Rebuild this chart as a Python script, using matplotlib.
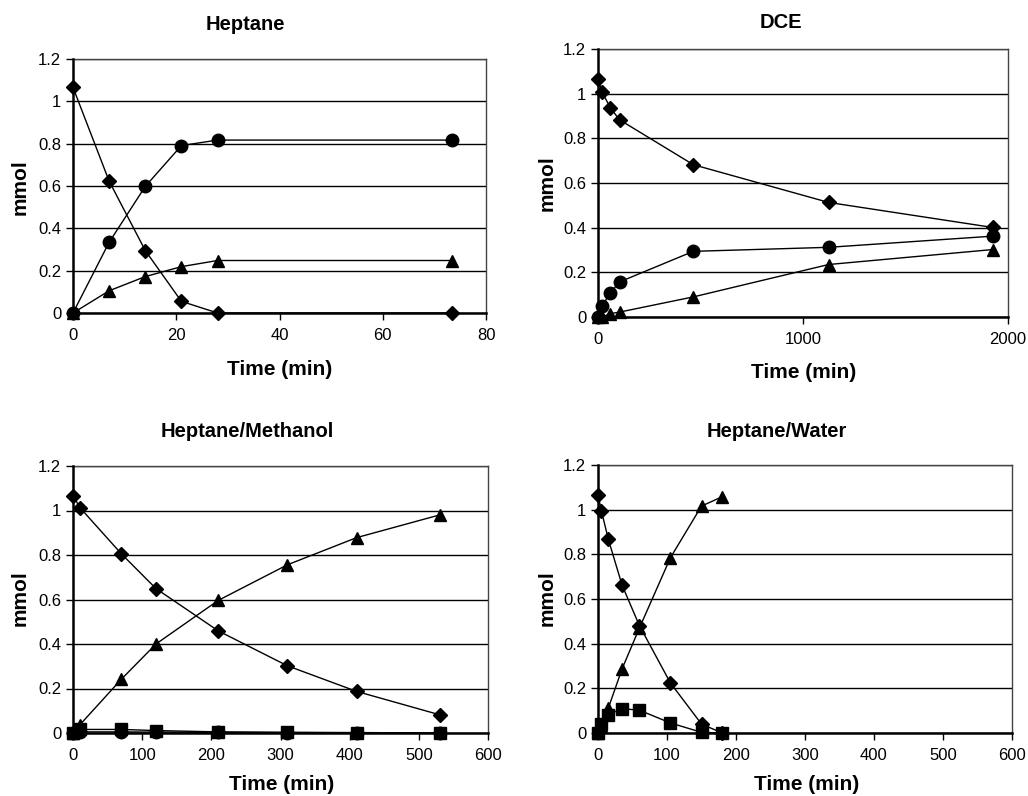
import numpy as np
import matplotlib.pyplot as plt
from matplotlib.ticker import FuncFormatter

plt.rcParams['font.family'] = ['Liberation Sans', 'DejaVu Sans']

# Heptane
hep_t = [0, 7, 14, 21, 28, 73.5]
hep_diamond = [1.066, 0.623, 0.295, 0.055, 0.0, 0.0]
hep_circle = [0.0, 0.334, 0.598, 0.791, 0.817, 0.817]
hep_triangle = [0.0, 0.105, 0.172, 0.219, 0.248, 0.248]

# DCE
dce_t = [0, 20, 60, 105, 465, 1125, 1925]
dce_diamond = [1.066, 1.007, 0.937, 0.883, 0.682, 0.513, 0.401]
dce_circle = [0.0, 0.048, 0.109, 0.157, 0.294, 0.312, 0.362]
dce_triangle = [0.0, 0.0, 0.015, 0.022, 0.09, 0.235, 0.302]

# Heptane/Methanol
met_t = [0, 10, 70, 120, 210, 310, 410, 530]
met_diamond = [1.067, 1.013, 0.805, 0.649, 0.459, 0.302, 0.187, 0.082]
met_triangle = [0.0, 0.037, 0.242, 0.40, 0.596, 0.756, 0.878, 0.98]
met_square = [0.0, 0.016, 0.016, 0.011, 0.005, 0.003, 0.002, 0.0]
met_circle = [0.0, 0.005, 0.005, 0.004, 0.003, 0.002, 0.001, 0.0]

# Heptane/Water
wat_t = [0, 5, 15, 35, 60, 105, 150, 180]
wat_diamond = [1.066, 0.994, 0.867, 0.661, 0.481, 0.224, 0.04, 0.0]
wat_triangle = [0.0, 0.03, 0.112, 0.288, 0.47, 0.785, 1.016, 1.058]
wat_square = [0.0, 0.04, 0.082, 0.109, 0.102, 0.045, 0.003, 0.0]

W, H = 1028, 796
fig = plt.figure(figsize=(W / 100, H / 100), dpi=100, facecolor='white')


def px_axes(l, t, r, b):
    return fig.add_axes([l / W, 1 - b / H, (r - l) / W, (b - t) / H])


def ptext(x, y, s, size=15, **kw):
    fig.text(x / W, 1 - y / H, s, ha='center', va='center',
             fontsize=size, fontweight='bold', **kw)


styles = {
    'diamond': dict(marker='D', ms=7.2),
    'circle': dict(marker='o', ms=9),
    'triangle': dict(marker='^', ms=8.5),
    'square': dict(marker='s', ms=8.5),
}


def setup(ax, xmax, xticks):
    ax.set_xlim(0, xmax)
    ax.set_ylim(0, 1.2)
    ax.set_xticks(xticks)
    ax.set_yticks(np.arange(0, 1.21, 0.2))
    ax.yaxis.set_major_formatter(FuncFormatter(lambda v, p: '{:g}'.format(round(v, 1))))
    ax.grid(axis='y', color='black', linewidth=1)
    ax.set_axisbelow(True)
    for s in ['left', 'bottom']:
        ax.spines[s].set_linewidth(1.8)
        ax.spines[s].set_zorder(5)
    for s in ['top', 'right']:
        ax.spines[s].set_linewidth(1.0)
        ax.spines[s].set_color('#444444')
    ax.tick_params(direction='out', length=5, width=1, labelsize=12, colors='black')
    ax.tick_params(axis='x', pad=6)


def draw(ax, t, series):
    for name, vals in series:
        ax.plot(t, vals, color='black', linewidth=1, markerfacecolor='black',
                markeredgecolor='black', clip_on=False, zorder=6, **styles[name])


ax1 = px_axes(73, 59, 486, 313)
setup(ax1, 80, [0, 20, 40, 60, 80])
draw(ax1, hep_t, [('diamond', hep_diamond), ('circle', hep_circle), ('triangle', hep_triangle)])

ax2 = px_axes(598, 49, 1008, 317)
setup(ax2, 2000, [0, 1000, 2000])
draw(ax2, dce_t, [('diamond', dce_diamond), ('circle', dce_circle), ('triangle', dce_triangle)])

ax3 = px_axes(73, 466, 488, 733)
setup(ax3, 600, range(0, 601, 100))
draw(ax3, met_t, [('diamond', met_diamond), ('triangle', met_triangle),
                  ('circle', met_circle), ('square', met_square)])

ax4 = px_axes(598, 465, 1012, 733)
setup(ax4, 600, range(0, 601, 100))
draw(ax4, wat_t, [('diamond', wat_diamond), ('triangle', wat_triangle), ('square', wat_square)])

# titles
ptext(245, 24, 'Heptane', size=14.5)
ptext(781, 23, 'DCE', size=14.5)
ptext(247, 431, 'Heptane/Methanol', size=14.5)
ptext(777, 431, 'Heptane/Water', size=14.5)

# axis labels
ptext(280, 370, 'Time (min)')
ptext(804, 373, 'Time (min)')
ptext(282, 784, 'Time (min)')
ptext(807, 784, 'Time (min)')
ptext(20, 187, 'mmol', rotation=90)
ptext(547, 183, 'mmol', rotation=90)
ptext(20, 598, 'mmol', rotation=90)
ptext(547, 598, 'mmol', rotation=90)

fig.savefig('out.png', dpi=100, facecolor='white')
